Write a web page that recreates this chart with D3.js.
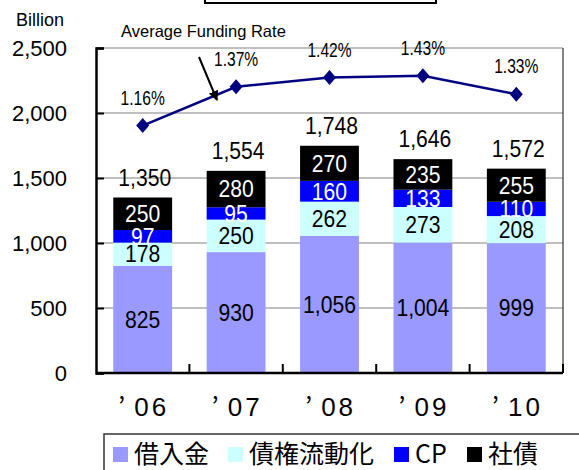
<!DOCTYPE html>
<html>
<head>
<meta charset="utf-8">
<script src="https://cdn.jsdelivr.net/npm/d3@7"></script>
<style>
  body { margin: 0; background: #fff; }
  svg text { font-family: "Liberation Sans", Arial, sans-serif; }
  .jp { font-family: "Noto Sans CJK JP", sans-serif; }
</style>
</head>
<body>
<div id="chart"></div>
<script>
// data
var years = ["’06", "’07", "’08", "’09", "’10"];
var loans = [825, 930, 1056, 1004, 999];          // 借入金
var securitization = [178, 250, 262, 273, 208];  // 債権流動化
var cp = [97, 95, 160, 133, 110];                // CP
var bonds = [250, 280, 270, 235, 255];           // 社債
var totals = [1350, 1554, 1748, 1646, 1572];
var rates = [1.16, 1.37, 1.42, 1.43, 1.33];
var yTicks = [0, 500, 1000, 1500, 2000, 2500];

var seriesNames = ["借入金", "債権流動化", "CP", "社債"];
var seriesColors = ["#9999ff", "#ccffff", "#0000ff", "#000000"];
var labelColors = ["#000", "#000", "#fff", "#fff"];

var W = 579, H = 470;
var margin = {top: 48, left: 96},
    width = 467,
    height = 325;

var svg = d3.select("#chart").append("svg")
    .attr("width", W)
    .attr("height", H);

// title box cut off at the top
svg.append("rect")
    .attr("x", 205).attr("y", -20)
    .attr("width", 231).attr("height", 23)
    .attr("fill", "#fff")
    .attr("stroke", "#000")
    .attr("stroke-width", 2);

var x = d3.scaleBand()
    .domain(years)
    .range([0, width])
    .paddingInner(0.37)
    .paddingOuter(0.185);

var y = d3.scaleLinear()
    .domain([0, 2500])
    .range([height, 0]);

// hidden secondary axis for the rate line
var yRate = d3.scaleLinear()
    .domain([-0.18, 1.58])
    .range([height, 0]);

var cx = d => x(d) + x.bandwidth() / 2;

var g = svg.append("g")
    .attr("transform", "translate(" + margin.left + "," + margin.top + ")");

// grid
g.selectAll(".grid")
    .data(yTicks.slice(1))
    .enter().append("line")
    .attr("x1", 0).attr("x2", width)
    .attr("y1", d => y(d)).attr("y2", d => y(d))
    .attr("stroke", "#808080")
    .attr("stroke-width", 1);

// right border
g.append("line")
    .attr("x1", width).attr("x2", width)
    .attr("y1", 0).attr("y2", height)
    .attr("stroke", "#333").attr("stroke-width", 1.2);

// stacked bars
var rows = years.map(function(yr, i) {
  return {year: yr, values: [loans[i], securitization[i], cp[i], bonds[i]], total: totals[i]};
});

var stacked = d3.stack()
    .keys([0, 1, 2, 3])
    .value((d, k) => d.values[k])(rows);

var layer = g.selectAll(".layer")
    .data(stacked)
    .enter().append("g")
    .attr("fill", d => seriesColors[d.key]);

layer.selectAll("rect")
    .data(d => d)
    .enter().append("rect")
    .attr("x", d => x(d.data.year))
    .attr("width", x.bandwidth())
    .attr("y", d => y(d[1]))
    .attr("height", d => y(d[0]) - y(d[1]));

stacked.forEach(function(s) {
  g.selectAll(".lbl" + s.key)
      .data(s)
      .enter().append("text")
      .attr("transform", d => "translate(" + cx(d.data.year) + "," + (y(d[0]) + y(d[1])) / 2 + ") scale(0.92,1)")
      .attr("dy", "0.36em")
      .attr("text-anchor", "middle")
      .attr("font-size", 23)
      .attr("fill", labelColors[s.key])
      .text(d => d3.format(",")(d[1] - d[0]));
});

// totals
g.selectAll(".total")
    .data(rows)
    .enter().append("text")
    .attr("transform", d => "translate(" + (cx(d.year) + 2) + "," + (y(d.total) - 12) + ") scale(0.92,1)")
    .attr("text-anchor", "middle")
    .attr("font-size", 23)
    .text(d => d3.format(",")(d.total));

// axes
var yAxis = d3.axisLeft(y)
    .tickValues(yTicks)
    .tickFormat(d3.format(","))
    .tickSize(-8)
    .tickPadding(29);
var ya = g.append("g").call(yAxis);
ya.select(".domain").attr("stroke", "#000").attr("stroke-width", 2.5);
ya.selectAll(".tick line").attr("stroke", "#000").attr("stroke-width", 2);
ya.selectAll(".tick text")
    .attr("font-size", 22)
    .attr("fill", "#000")
    .style("font-family", "'Liberation Sans', Arial, sans-serif");

var bounds = d3.range(years.length + 1).map(i => i * x.step());
var xa = g.append("g").attr("transform", "translate(0," + height + ")");
xa.append("line")
    .attr("x1", 0).attr("x2", width)
    .attr("stroke", "#000").attr("stroke-width", 2.5);
xa.selectAll(".xt")
    .data(bounds.slice(1))
    .enter().append("line")
    .attr("x1", d => d).attr("x2", d => d)
    .attr("y1", 0).attr("y2", -9)
    .attr("stroke", "#000").attr("stroke-width", 2);
var xl = xa.selectAll(".xl")
    .data(years)
    .enter().append("text")
    .attr("x", d => cx(d) + 1)
    .attr("y", 43)
    .attr("text-anchor", "middle")
    .attr("font-size", 26);
xl.append("tspan")
    .attr("class", "jp")
    .text(d => d.charAt(0));
xl.append("tspan")
    .attr("dx", 9)
    .attr("letter-spacing", 3)
    .text(d => d.slice(1));

// rate line
var line = d3.line()
    .x((d, i) => cx(years[i]))
    .y(d => yRate(d));

g.append("path")
    .datum(rates)
    .attr("d", line)
    .attr("fill", "none")
    .attr("stroke", "#000080")
    .attr("stroke-width", 2.5);

g.selectAll(".pt")
    .data(rates)
    .enter().append("path")
    .attr("transform", (d, i) => "translate(" + cx(years[i]) + "," + yRate(d) + ")")
    .attr("d", "M0,-7.5L6.5,0L0,7.5L-6.5,0Z")
    .attr("fill", "#000080");

g.selectAll(".rl")
    .data(rates)
    .enter().append("text")
    .attr("transform", (d, i) => "translate(" + cx(years[i]) + "," + (yRate(d) - 21) + ") scale(0.8,1)")
    .attr("text-anchor", "middle")
    .attr("font-size", 19.5)
    .text(d => d.toFixed(2) + "%");

// annotation
svg.append("text")
    .attr("x", 121).attr("y", 37)
    .attr("font-size", 16.5)
    .text("Average Funding Rate");

svg.append("text")
    .attr("x", 16).attr("y", 26)
    .attr("font-size", 18)
    .text("Billion");

svg.append("defs").append("marker")
    .attr("id", "arrow")
    .attr("viewBox", "0 0 10 10")
    .attr("refX", 9).attr("refY", 5)
    .attr("markerWidth", 5).attr("markerHeight", 5)
    .attr("orient", "auto")
    .append("path")
    .attr("d", "M0,0L10,5L0,10Z")
    .attr("fill", "#000");

svg.append("line")
    .attr("x1", 199).attr("y1", 57)
    .attr("x2", 217).attr("y2", 100)
    .attr("stroke", "#000")
    .attr("stroke-width", 2)
    .attr("marker-end", "url(#arrow)");

// legend
var legend = svg.append("g");
legend.append("rect")
    .attr("x", 104).attr("y", 434)
    .attr("width", 500).attr("height", 60)
    .attr("fill", "#fff")
    .attr("stroke", "#333")
    .attr("stroke-width", 1.5);

var legendX = [113, 228, 394, 467];
var item = legend.selectAll(".item")
    .data(seriesNames)
    .enter().append("g")
    .attr("transform", (d, i) => "translate(" + legendX[i] + ",447)");
item.append("rect")
    .attr("width", 15).attr("height", 15)
    .attr("fill", (d, i) => seriesColors[i]);
item.append("text")
    .attr("class", "jp")
    .attr("x", 21).attr("y", 16)
    .attr("font-size", 25)
    .text(d => d);
</script>
</body>
</html>
